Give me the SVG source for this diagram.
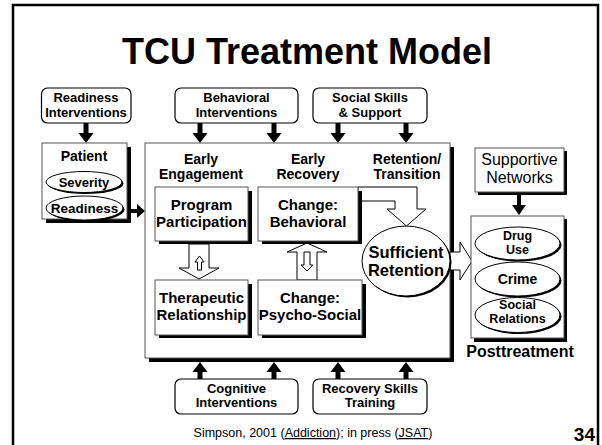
<svg xmlns="http://www.w3.org/2000/svg" width="602" height="445" viewBox="0 0 602 445">
<style>
text{font-family:"Liberation Sans",Arial,Helvetica,sans-serif;fill:#000;text-anchor:middle}
.b{font-weight:bold}
.t12{font-size:12.5px;font-weight:bold}
.t13{font-size:13px;font-weight:bold}
.t14{font-size:14px;font-weight:bold}
.t15{font-size:15px;font-weight:bold}
.rbox{fill:#fff;stroke:#000;stroke-width:1.2}
.box{fill:#fff;stroke:#555;stroke-width:1}
.sh{fill:#000}
.ell{fill:#fff;stroke:#000;stroke-width:1}
.hollow{fill:#fff;stroke:#000;stroke-width:1}
.solid{fill:#000;stroke:none}
</style>
<defs>
<path id="down" d="M-2.5,0 H2.5 V10 H7.5 L0,20 L-7.5,10 H-2.5 Z"/>
<path id="up" d="M-2.5,0 H2.5 V-7 H7.5 L0,-17 L-7.5,-7 H-2.5 Z"/>
</defs>
<rect width="602" height="445" fill="#fff"/>
<rect x="13" y="5" width="585" height="448" fill="none" stroke="#000" stroke-width="2.5"/>
<text x="307" y="64" style="font-size:36px" class="b">TCU Treatment Model</text>

<g id="connectors">
<use href="#down" x="86" y="123" class="solid"/>
<use href="#down" x="200" y="123" class="solid"/>
<use href="#down" x="274" y="123" class="solid"/>
<use href="#down" x="338" y="123" class="solid"/>
<use href="#down" x="406" y="123" class="solid"/>
<use href="#up" x="200" y="379" class="solid"/>
<use href="#up" x="274" y="379" class="solid"/>
<use href="#up" x="338" y="379" class="solid"/>
<use href="#up" x="406" y="379" class="solid"/>
<path class="solid" d="M131,209 H137 V204 L145,211 L137,218 V213 H131 Z"/>
<path class="solid" d="M517,193 H521 V205 H526 L519,215 L512,205 H517 Z"/>
</g>

<g id="main">
<rect x="149" y="147" width="305" height="215" class="sh"/>
<rect x="145" y="143" width="305" height="215" class="box"/>
<text x="201" y="163.5" class="t14">Early</text>
<text x="201" y="179" class="t14">Engagement</text>
<text x="308" y="163.5" class="t14">Early</text>
<text x="308" y="179" class="t14">Recovery</text>
<text x="407" y="163.5" class="t14">Retention/</text>
<text x="407" y="179" class="t14">Transition</text>
</g>

<g id="inner-arrows">
<path class="hollow" d="M189,244 H209 V268 H219 L199,279 L179,268 H189 Z"/>
<path class="hollow" d="M197.5,270 V262 H195 L199.5,256 L204,262 H201.5 V270 Z"/>
<path class="hollow" d="M297,280 V252 H287 L307,243 L327,252 H317 V280 Z"/>
<path class="hollow" d="M304,252 H310 V265 H313 L307,271 L301,265 H304 Z"/>
<path class="hollow" d="M358,187 H417 V209 H426 L406.5,226 L387,209 H395 V201 H358 Z"/>
<path class="hollow" d="M450,252 H460 V242 L472,261 L460,280 V270 H450 Z"/>
</g>

<g id="readiness-interventions">
<rect x="41.5" y="88" width="89.5" height="35" rx="6" class="rbox"/>
<text x="86" y="102" class="t13">Readiness</text>
<text x="86" y="116.6" class="t13">Interventions</text>
</g>
<g id="behavioral-interventions">
<rect x="175" y="88" width="123" height="35" rx="6" class="rbox"/>
<text x="236.5" y="102" class="t13">Behavioral</text>
<text x="236.5" y="116.6" class="t13">Interventions</text>
</g>
<g id="social-skills">
<rect x="313" y="88" width="114" height="35" rx="6" class="rbox"/>
<text x="370" y="102" class="t13">Social Skills</text>
<text x="370" y="116.6" class="t13">&amp; Support</text>
</g>
<g id="cognitive-interventions">
<rect x="175" y="379" width="123" height="35" rx="6" class="rbox"/>
<text x="236.5" y="392.5" class="t13">Cognitive</text>
<text x="236.5" y="407.1" class="t13">Interventions</text>
</g>
<g id="recovery-skills">
<rect x="313" y="379" width="114" height="35" rx="6" class="rbox"/>
<text x="370" y="392.5" class="t13">Recovery Skills</text>
<text x="370" y="407.1" class="t13">Training</text>
</g>

<g id="patient">
<rect x="46" y="147" width="85" height="76" class="sh"/>
<rect x="42" y="143" width="85" height="76" class="box"/>
<text x="84" y="161" class="t14">Patient</text>
<ellipse cx="85.5" cy="183.5" rx="38" ry="10.5" class="sh"/>
<ellipse cx="84" cy="182" rx="38" ry="10.5" class="ell"/>
<text x="84" y="187" class="t13">Severity</text>
<ellipse cx="86" cy="209.5" rx="38.5" ry="12" class="sh"/>
<ellipse cx="84.5" cy="208" rx="38.5" ry="12" class="ell"/>
<text x="84.5" y="213" class="t13" style="font-size:13.5px">Readiness</text>
</g>

<g id="program-participation">
<rect x="159" y="191" width="93" height="53" class="sh"/>
<rect x="155" y="187" width="93" height="54" class="box"/>
<text x="201.5" y="210" class="t15">Program</text>
<text x="201.5" y="227" class="t15">Participation</text>
</g>
<g id="change-behavioral">
<rect x="262" y="191" width="100" height="53" class="sh"/>
<rect x="258" y="187" width="100" height="54" class="box"/>
<text x="308" y="210" class="t15">Change:</text>
<text x="308" y="227" class="t15">Behavioral</text>
</g>
<g id="therapeutic-relationship">
<rect x="159" y="284" width="93" height="54" class="sh"/>
<rect x="155" y="280" width="93" height="55" class="box"/>
<text x="201.5" y="303" class="t15">Therapeutic</text>
<text x="201.5" y="320" class="t15">Relationship</text>
</g>
<g id="change-psychosocial">
<rect x="262" y="284" width="104" height="54" class="sh"/>
<rect x="258" y="280" width="104" height="55" class="box"/>
<text x="310" y="303" class="t15">Change:</text>
<text x="310" y="320" class="t15">Psycho-Social</text>
</g>
<g id="sufficient-retention">
<ellipse cx="407.5" cy="262.5" rx="44" ry="35" class="sh"/>
<ellipse cx="406" cy="261" rx="44" ry="35" class="ell"/>
<text x="406" y="257.5" class="b" style="font-size:16.5px">Sufficient</text>
<text x="406" y="276.2" class="b" style="font-size:16.5px">Retention</text>
</g>

<g id="supportive-networks">
<rect x="478" y="151" width="89" height="44" class="sh"/>
<rect x="475" y="148" width="89" height="44" class="box"/>
<text x="519.5" y="165" style="font-size:16px">Supportive</text>
<text x="519.5" y="183" style="font-size:16px">Networks</text>
</g>

<g id="posttreatment">
<rect x="474" y="219" width="93" height="123" class="sh"/>
<rect x="471" y="216" width="93" height="122" class="box"/>
<ellipse cx="519" cy="245" rx="42.5" ry="16.5" class="sh"/>
<ellipse cx="517.5" cy="243.5" rx="42.5" ry="16.5" class="ell"/>
<text x="517.5" y="240" class="t12">Drug</text>
<text x="517.5" y="254" class="t12">Use</text>
<ellipse cx="519" cy="280.5" rx="42.5" ry="17" class="sh"/>
<ellipse cx="517.5" cy="279" rx="42.5" ry="17" class="ell"/>
<text x="517.5" y="284" class="t14">Crime</text>
<ellipse cx="519" cy="316.5" rx="42.5" ry="17.5" class="sh"/>
<ellipse cx="517.5" cy="315" rx="42.5" ry="17.5" class="ell"/>
<text x="517.5" y="308.5" class="t12">Social</text>
<text x="517.5" y="322.5" class="t12">Relations</text>
<text x="520" y="357" class="b" style="font-size:16px">Posttreatment</text>
</g>

<g id="footer">
<text x="313" y="437" style="font-size:12.5px">Simpson, 2001 (<tspan text-decoration="underline">Addiction</tspan>); in press (<tspan text-decoration="underline">JSAT</tspan>)</text>
<text x="595" y="441" class="b" style="font-size:19px;text-anchor:end">34</text>
</g>
</svg>
